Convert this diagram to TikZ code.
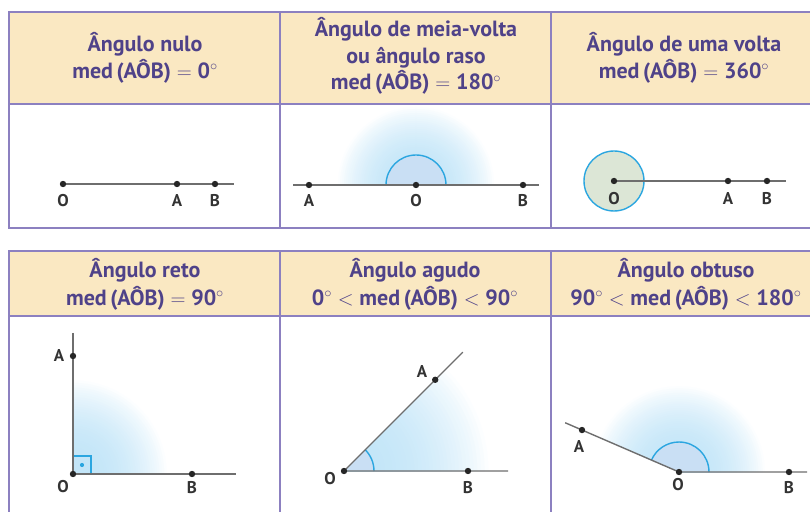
\documentclass[tikz,border=0pt]{standalone}
\usepackage{fontspec}
\setmainfont{PT Sans}
\usetikzlibrary{calc}
\definecolor{bord}{HTML}{8C80C0}
\definecolor{hfill}{HTML}{FAE8C2}
\definecolor{htext}{HTML}{4F4289}
\definecolor{raycol}{HTML}{6E6E6E}
\definecolor{arcc}{HTML}{2BA6E0}
\definecolor{arcf}{HTML}{C9DFF4}
\definecolor{glow}{HTML}{C2E5F8}
\definecolor{circf}{HTML}{DCE6D6}
\definecolor{labcol}{HTML}{333333}
\newcommand{\dg}{$^{\circ}$}
\newcommand{\eqs}{$\;=\;$}
\newcommand{\lts}{$\;<\;$}
% soft glow sector: centre, start angle, end angle, radius
\newcommand{\glowsector}[4]{%
  \foreach \k in {40,39,...,1}{%
    \pgfmathtruncatemacro\pp{100*(1-(\k/40)^2.4)}%
    \fill[glow!\pp!white] (#1) -- ++(#2:{#4*\k/40}) arc[start angle=#2,end angle=#3,radius={#4*\k/40}] -- cycle;
  }%
}
\tikzset{
  frame/.style={draw=bord, line width=1.6pt},
  hdrfill/.style={fill=hfill},
  hdr/.style={text=htext, font=\fontsize{22}{26.5}\selectfont\bfseries, align=center, inner sep=0pt},
  hdrb/.style={text=htext, font=\fontsize{22}{28}\selectfont\bfseries, align=center, inner sep=0pt},
  ray/.style={draw=raycol, line width=1.4pt},
  dot/.style={circle, fill=black!85, inner sep=0pt, minimum size=6.4pt},
  lab/.style={text=labcol, font=\fontsize{17}{17}\selectfont\bfseries, inner sep=0pt},
  anglearc/.style={draw=arcc, line width=1.4pt},
  anglefill/.style={fill=arcf},
}
\begin{document}
\begin{tikzpicture}[x=1pt,y=1pt]
\useasboundingbox (0,0) rectangle (810,511);
\clip (0,0) rectangle (810,511);
\fill[white] (0,0) rectangle (810,511);

% ---------- table 1 ----------
\fill[hdrfill] (9,499) rectangle (830,407);
\draw[frame] (9,499) rectangle (830,283);
\draw[frame] (9,407) -- (830,407);
\draw[frame] (280,499) -- (280,283);
\draw[frame] (551,499) -- (551,283);

% ---------- table 2 ----------
\fill[hdrfill] (9,260) rectangle (830,195);
\draw[frame] (9,-20) -- (9,260) -- (830,260);
\draw[frame] (9,195) -- (830,195);
\draw[frame] (280,260) -- (280,-20);
\draw[frame] (551,260) -- (551,-20);

% ---------- headers ----------
\node[hdr] (h1) at (145,453) {Ângulo nulo\\med\,(AÔB)\eqs0\dg};
\node[hdr] (h2) at (416,455) {Ângulo de meia-volta\\ou ângulo raso\\med\,(AÔB)\eqs180\dg};
\node[hdr] (h3) at (684,453) {Ângulo de uma volta\\med\,(AÔB)\eqs360\dg};
\node[hdrb] (h4) at (145,227) {Ângulo reto\\med\,(AÔB)\eqs90\dg};
\node[hdrb] (h5) at (415,227) {Ângulo agudo\\0\dg\lts med\,(AÔB)\lts90\dg};
\node[hdrb] (h6) at (686,227) {Ângulo obtuso\\90\dg\lts med\,(AÔB)\lts180\dg};

% ---------- cell 1: nulo ----------
\coordinate (O1) at (63,327);
\coordinate (A1) at (177,327);
\coordinate (B1) at (215,327);
\coordinate (E1) at (234,327);
\draw[ray] (O1) -- (E1);
\node[dot] (dO1) at (O1) {};
\node[dot] (dA1) at (A1) {};
\node[dot] (dB1) at (B1) {};
\node[lab] (lO1) at (63,310) {O};
\node[lab] (lA1) at (177,310) {A};
\node[lab] (lB1) at (215,310) {B};

% ---------- cell 2: raso ----------
\coordinate (O2) at (416,326);
\coordinate (A2) at (309,326);
\coordinate (B2) at (523,326);
\coordinate (S2) at (293,326);
\coordinate (E2) at (539,326);
\glowsector{O2}{0}{180}{80}
\fill[anglefill] (O2) ++(30,0) arc[start angle=0,end angle=180,radius=30] -- cycle;
\draw[anglearc] (O2) ++(30,0) arc[start angle=0,end angle=180,radius=30];
\draw[ray] (S2) -- (E2);
\node[dot] (dO2) at (O2) {};
\node[dot] (dA2) at (A2) {};
\node[dot] (dB2) at (B2) {};
\node[lab] (lO2) at (416,310) {O};
\node[lab] (lA2) at (309,310) {A};
\node[lab] (lB2) at (523,310) {B};

% ---------- cell 3: volta ----------
\coordinate (O3) at (614,330);
\coordinate (A3) at (728,330);
\coordinate (B3) at (767,330);
\coordinate (E3) at (786,330);
\fill[circf] (O3) circle[radius=30];
\draw[anglearc] (O3) circle[radius=30];
\draw[ray] (O3) -- (E3);
\node[dot] (dO3) at (O3) {};
\node[dot] (dA3) at (A3) {};
\node[dot] (dB3) at (B3) {};
\node[lab] (lO3) at (614,312) {O};
\node[lab] (lA3) at (728,312) {A};
\node[lab] (lB3) at (767,312) {B};

% ---------- cell 4: reto ----------
\coordinate (O4) at (73,37);
\coordinate (A4) at (73,155);
\coordinate (B4) at (192,37);
\coordinate (T4) at (73,178);
\coordinate (E4) at (236,37);
\glowsector{O4}{0}{90}{96}
\draw[arcc, line width=1.3pt] (O4) rectangle ++(18,18);
\fill[arcc] ($(O4)+(9,9)$) circle[radius=2.1];
\draw[ray] (T4) -- (O4) -- (E4);
\node[dot] (dO4) at (O4) {};
\node[dot] (dA4) at (A4) {};
\node[dot] (dB4) at (B4) {};
\node[lab] (lO4) at (63,24) {O};
\node[lab] (lA4) at (59,155) {A};
\node[lab] (lB4) at (192,23) {B};

% ---------- cell 5: agudo ----------
\coordinate (O5) at (344,40);
\coordinate (A5) at ($(O5)+(45:129)$);
\coordinate (T5) at ($(O5)+(45:168)$);
\coordinate (B5) at (468,40);
\coordinate (E5) at (508,40);
\glowsector{O5}{0}{45}{148}
\fill[anglefill] (O5) -- ++(30,0) arc[start angle=0,end angle=45,radius=30] -- cycle;
\draw[anglearc] (O5) ++(30,0) arc[start angle=0,end angle=45,radius=30];
\draw[ray] (T5) -- (O5) -- (E5);
\node[dot] (dO5) at (O5) {};
\node[dot] (dA5) at (A5) {};
\node[dot] (dB5) at (B5) {};
\node[lab] (lO5) at (330,32) {O};
\node[lab] (lA5) at (422,139) {A};
\node[lab] (lB5) at (468,23) {B};

% ---------- cell 6: obtuso ----------
\coordinate (O6) at (679,39);
\coordinate (A6) at ($(O6)+(156.6:105.7)$);
\coordinate (T6) at ($(O6)+(156.6:124)$);
\coordinate (B6) at (789,39);
\coordinate (E6) at (807,39);
\glowsector{O6}{0}{156.6}{88}
\fill[anglefill] (O6) -- ++(30,0) arc[start angle=0,end angle=156.6,radius=30] -- cycle;
\draw[anglearc] (O6) ++(30,0) arc[start angle=0,end angle=156.6,radius=30];
\draw[ray] (T6) -- (O6) -- (E6);
\node[dot] (dO6) at (O6) {};
\node[dot] (dA6) at (A6) {};
\node[dot] (dB6) at (B6) {};
\node[lab] (lO6) at (678,26) {O};
\node[lab] (lA6) at (579,64) {A};
\node[lab] (lB6) at (789,23) {B};
\end{tikzpicture}
\end{document}
